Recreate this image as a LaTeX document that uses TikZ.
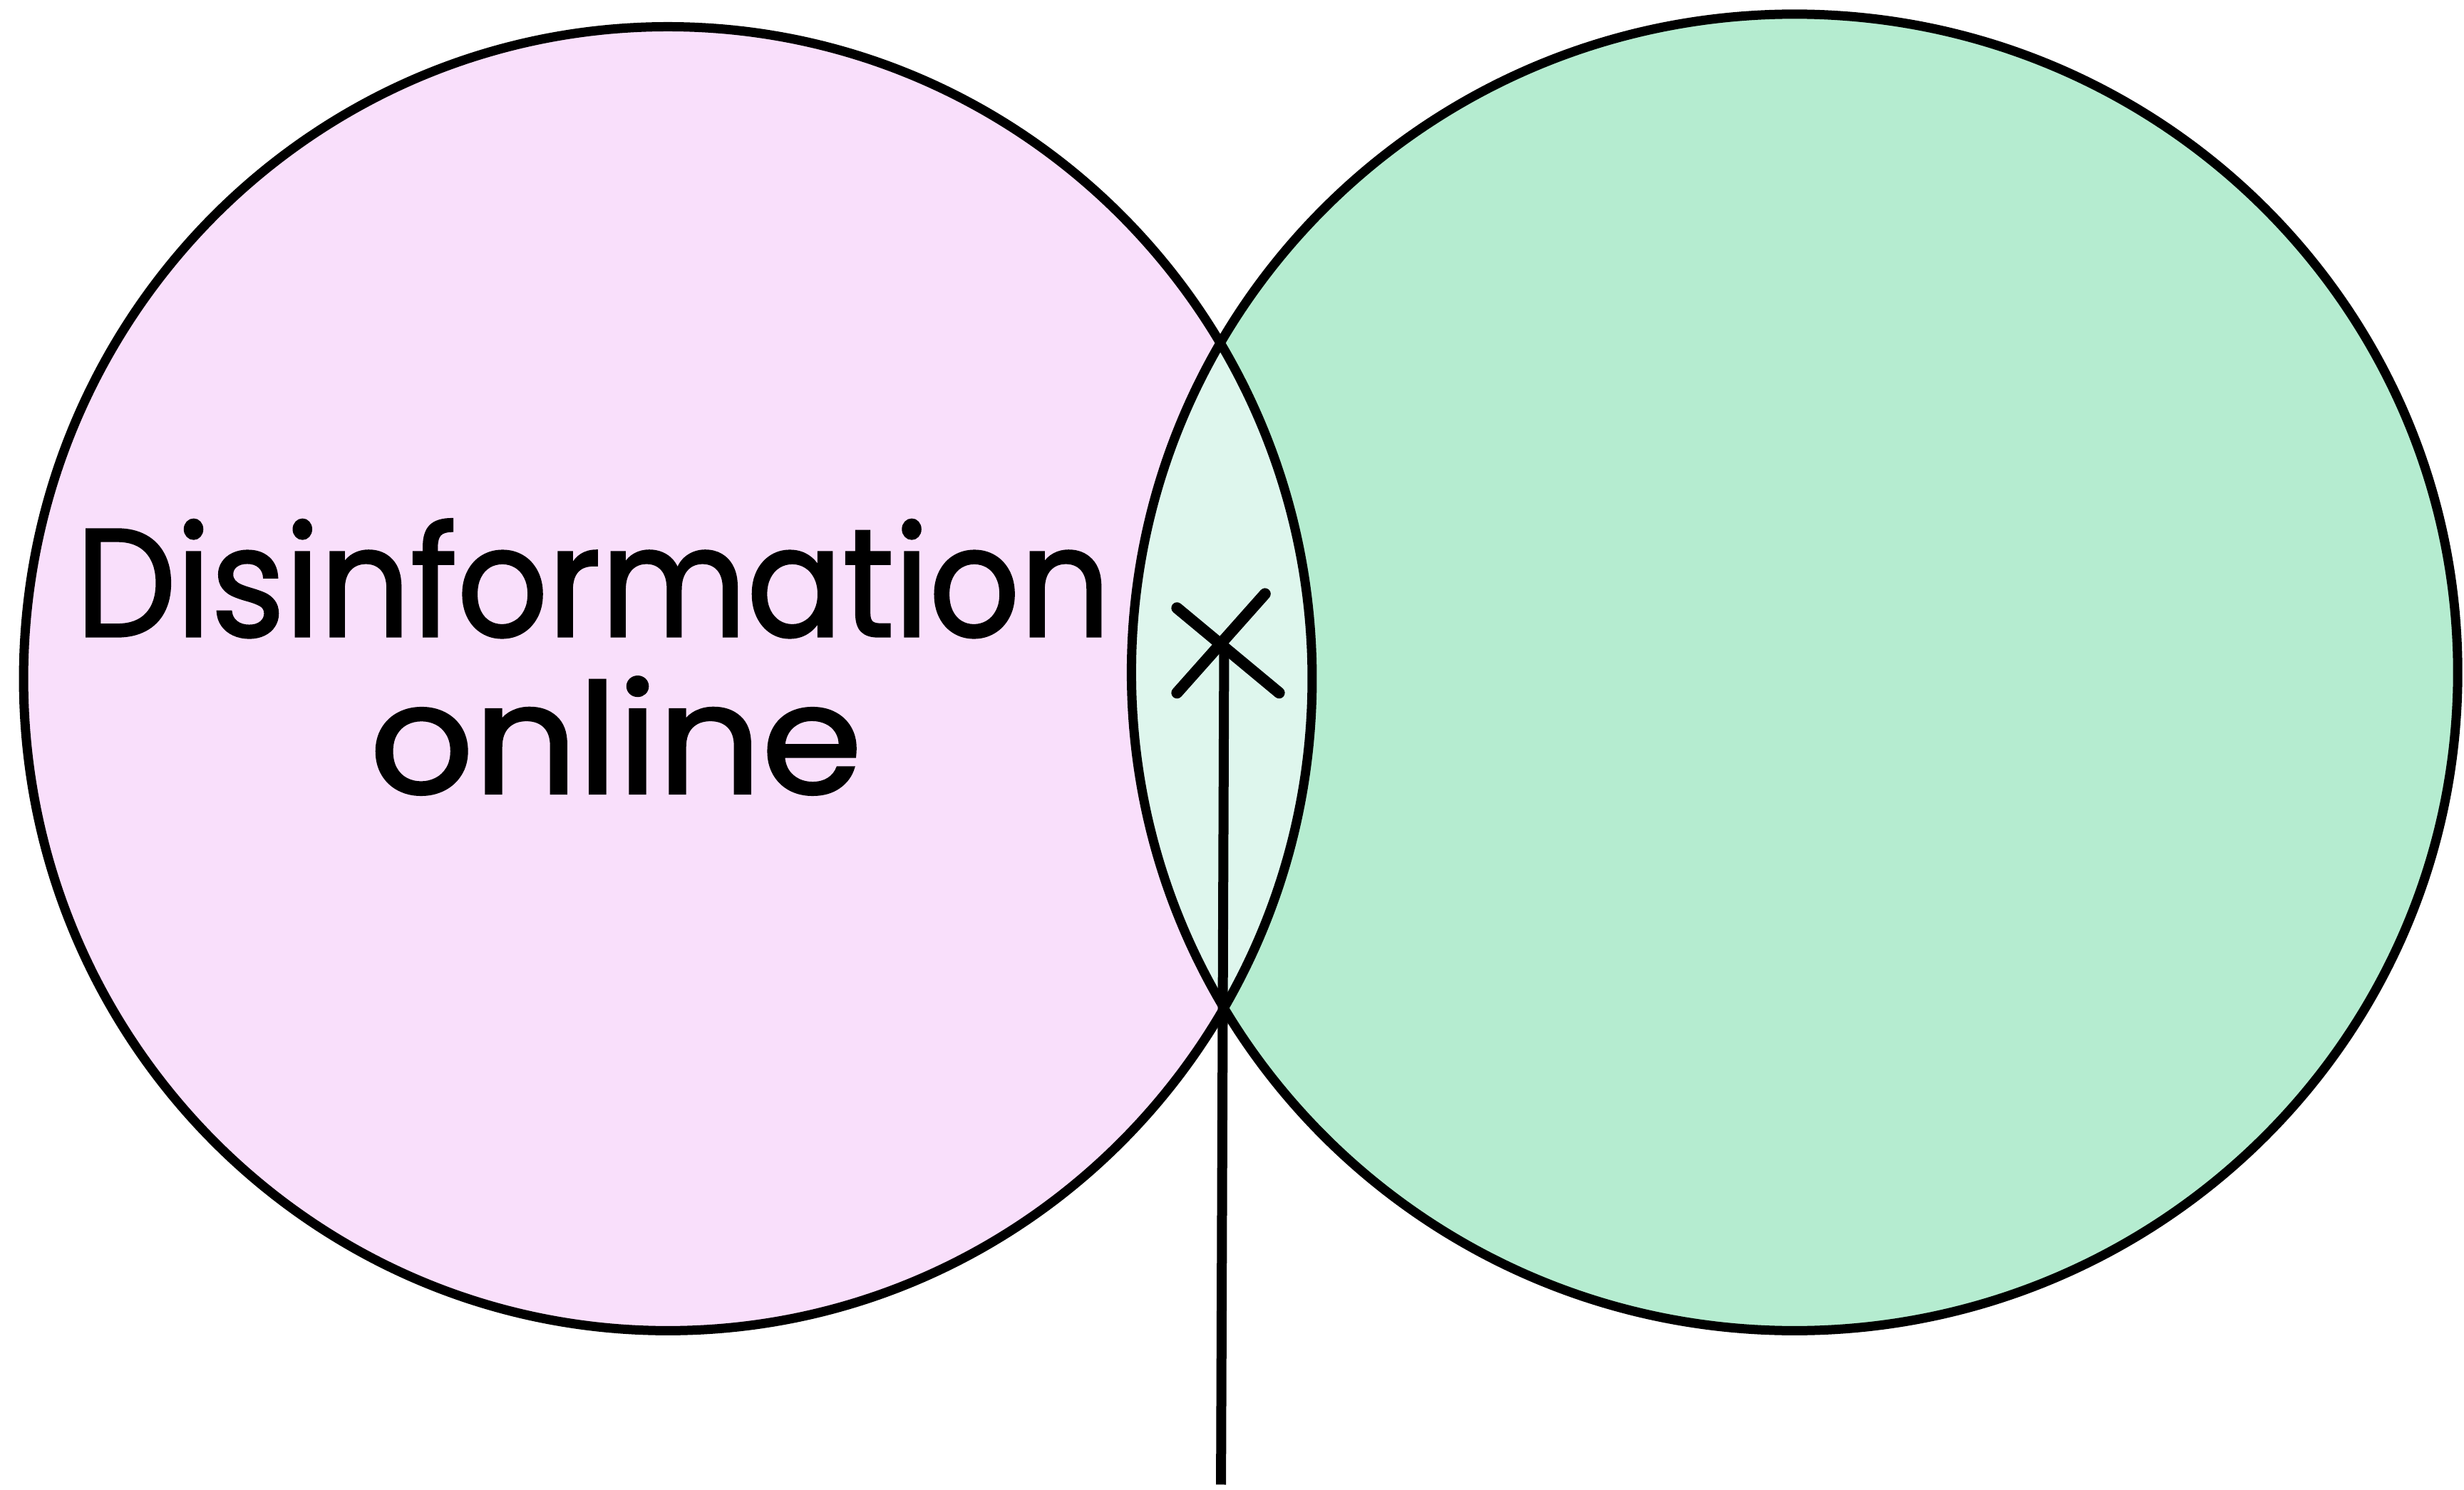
\documentclass[tikz,border=0pt]{standalone}
\usepackage{fontspec}
\setmainfont{Poppins}[FakeBold=1.6]
\definecolor{pinkfill}{RGB}{249,223,251}
\definecolor{greenfill}{RGB}{181,236,208}
\definecolor{lensfill}{RGB}{222,246,237}
\begin{document}
\begin{tikzpicture}[x=2.2047pt,y=-2.2047pt,
  outline/.style={draw=black,line width=13pt},
  xstroke/.style={draw=black,line width=16pt,line cap=round},
  pointer/.style={draw=black,line width=14pt},
  biglabel/.style={font=\fontsize{215}{240}\selectfont,anchor=base,inner sep=0pt}]
\useasboundingbox (0,0) rectangle (1568,948);
\fill[white] (0,0) rectangle (1568,948);
\path[save path=\leftp] (425,432) ellipse [x radius=410*2.2047pt, y radius=415*2.2047pt];
\path[save path=\rightp] (1142,428) ellipse [x radius=422*2.2047pt, y radius=419*2.2047pt];
\fill[pinkfill,use path=\leftp];
\fill[greenfill,use path=\rightp];
\begin{scope}
  \clip[use path=\leftp];
  \fill[lensfill,use path=\rightp];
\end{scope}
\draw[outline,use path=\leftp];
\draw[outline,use path=\rightp];
\node[biglabel] (l1) at (377.5,405) {\scalebox{0.925}[1]{Disinformation}};
\node[biglabel] (l2) at (392,505) {\scalebox{1.06}[1]{online}};
\coordinate (xa) at (749,387);
\coordinate (xb) at (814,441);
\coordinate (xc) at (749,441);
\coordinate (xd) at (805,378);
\coordinate (xm) at (779,410);
\coordinate (tail) at (777,945);
\draw[xstroke] (xa) -- (xb);
\draw[xstroke] (xc) -- (xd);
\draw[pointer] (xm) -- (tail);
\end{tikzpicture}
\end{document}
